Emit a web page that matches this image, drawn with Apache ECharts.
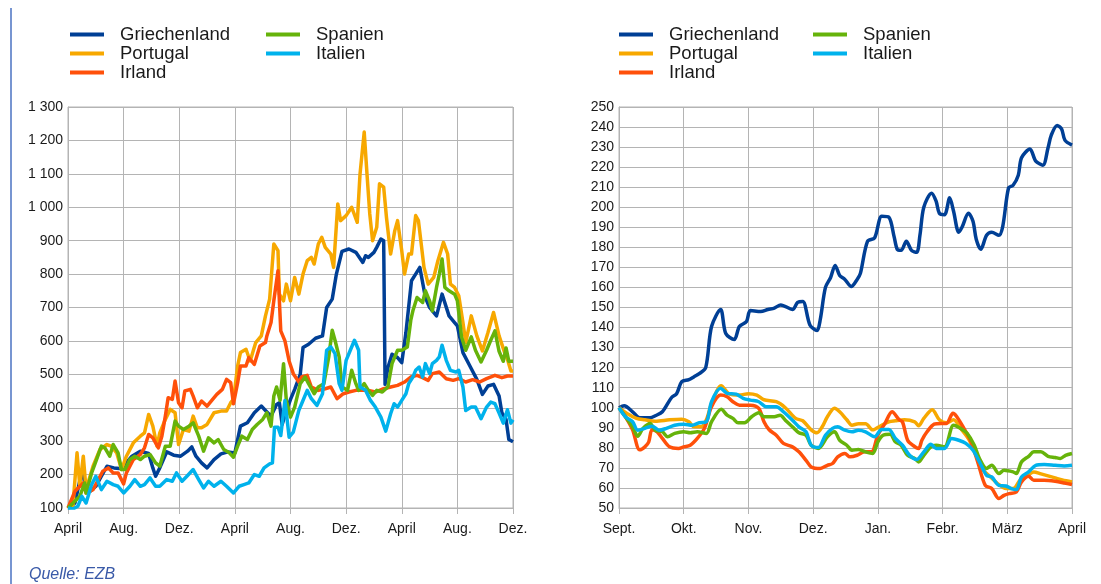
<!DOCTYPE html>
<html>
<head>
<meta charset="utf-8">
<script src="https://cdn.jsdelivr.net/npm/echarts@6/dist/echarts.min.js"></script>
<style>
  html, body { margin: 0; padding: 0; background: #fff; }
  #chart { width: 1101px; height: 584px; }
</style>
</head>
<body>
<div id="chart"></div>
<script>
// x values are months since the first tick
var leftTicks = ['April', 'Aug.', 'Dez.', 'April', 'Aug.', 'Dez.', 'April', 'Aug.', 'Dez.'];
var rightTicks = ['Sept.', 'Okt.', 'Nov.', 'Dez.', 'Jan.', 'Febr.', 'März', 'April'];

var names = ['Griechenland', 'Portugal', 'Irland', 'Spanien', 'Italien'];
var colors = ['#003f95', '#f7a800', '#ff500a', '#66b30a', '#00b2ec'];

// left panel, April 2010 = 0
var grLeft = [[0,100],[0.5,115],[1.0,210],[1.3,160],[1.6,150],[2.0,165],[2.4,195],[2.8,225],[3.3,220],[3.7,218],[4.0,225],[4.6,255],[5.2,270],[5.8,263],[6.1,220],[6.3,195],[6.6,220],[7.1,268],[7.6,258],[8.1,255],[8.6,270],[8.9,283],[9.2,255],[9.6,235],[10.0,220],[10.5,245],[11.0,262],[11.5,268],[12.0,265],[12.4,345],[12.9,355],[13.4,385],[13.9,405],[14.2,392],[14.6,375],[15.0,410],[15.2,415],[15.4,350],[15.7,390],[16.0,425],[16.3,455],[16.7,500],[16.9,580],[17.3,590],[17.8,608],[18.3,615],[18.6,700],[19.0,725],[19.3,800],[19.7,868],[20.2,875],[20.7,865],[21.2,835],[21.4,855],[21.6,850],[22.0,865],[22.2,880],[22.5,905],[22.7,900],[22.8,470],[23.0,520],[23.3,560],[23.7,550],[24.0,535],[24.3,625],[24.7,780],[25.0,800],[25.3,820],[25.7,730],[26.0,700],[26.5,675],[26.9,740],[27.4,675],[27.8,655],[28.0,645],[28.4,565],[28.9,525],[29.4,485],[29.8,440],[30.2,465],[30.6,470],[31.0,435],[31.2,385],[31.5,365],[31.7,305],[32.0,298]];
var ptLeft = [[0,100],[0.35,105],[0.65,265],[0.85,165],[1.1,255],[1.3,155],[1.8,225],[2.3,275],[2.8,290],[3.1,285],[3.5,265],[3.85,215],[4.2,255],[4.7,295],[5.2,315],[5.5,325],[5.8,380],[6.1,345],[6.4,285],[6.6,325],[7.0,365],[7.35,395],[7.7,385],[7.95,290],[8.3,335],[8.7,330],[9.0,375],[9.3,340],[9.6,340],[10.0,350],[10.5,385],[11.0,390],[11.4,390],[11.7,415],[11.9,425],[12.2,525],[12.4,565],[12.8,575],[13.1,540],[13.5,595],[13.9,615],[14.2,675],[14.5,725],[14.8,890],[15.1,870],[15.2,740],[15.5,720],[15.7,770],[16.0,720],[16.3,790],[16.6,740],[16.9,800],[17.2,840],[17.5,850],[17.7,830],[18.0,890],[18.25,910],[18.5,880],[18.9,860],[19.1,820],[19.4,1010],[19.6,960],[20.0,975],[20.4,1000],[20.8,955],[21.0,1100],[21.3,1225],[21.5,1100],[21.7,980],[21.9,900],[22.2,940],[22.4,1070],[22.7,1060],[22.9,970],[23.2,860],[23.5,930],[23.7,960],[24.0,870],[24.2,800],[24.5,860],[24.7,860],[25.0,975],[25.2,960],[25.6,820],[25.9,770],[26.3,790],[26.6,840],[27.0,895],[27.3,860],[27.5,770],[27.8,760],[28.1,735],[28.4,655],[28.6,595],[29.0,675],[29.4,615],[29.8,570],[30.2,625],[30.6,685],[31.0,615],[31.4,565],[31.6,545],[31.85,510],[32.0,510]];
var ieLeft = [[0,100],[0.5,150],[1.1,175],[1.3,145],[1.8,155],[2.5,210],[2.9,220],[3.25,205],[3.6,205],[4.0,172],[4.2,205],[4.7,245],[5.2,260],[5.5,280],[5.8,320],[6.1,310],[6.5,280],[6.75,315],[7.0,375],[7.2,430],[7.5,425],[7.7,480],[7.95,415],[8.2,400],[8.4,450],[8.8,455],[9.0,435],[9.3,400],[9.6,420],[10.0,405],[10.4,425],[10.7,440],[11.1,455],[11.4,485],[11.7,475],[11.9,412],[12.2,475],[12.4,525],[12.8,525],[13.0,550],[13.4,530],[13.8,585],[14.2,595],[14.3,615],[14.6,655],[14.8,720],[15.1,810],[15.3,630],[15.6,600],[15.9,540],[16.2,502],[16.6,477],[16.8,492],[17.2,497],[17.5,462],[18.0,452],[18.5,457],[18.9,462],[19.35,427],[19.8,442],[20.2,447],[20.7,452],[21.2,452],[21.6,452],[22.1,447],[22.7,457],[23.2,462],[23.7,467],[24.2,477],[24.65,492],[25.1,497],[25.5,490],[25.9,482],[26.2,502],[26.7,507],[27.2,487],[27.7,482],[28.1,487],[28.6,477],[29.1,484],[29.6,477],[30.1,487],[30.7,497],[31.2,490],[31.6,495],[32.0,495]];
var esLeft = [[0,100],[0.6,125],[0.85,135],[1.2,175],[1.3,145],[1.7,205],[2.05,245],[2.4,285],[2.65,280],[3.0,255],[3.25,290],[3.6,265],[3.85,215],[4.1,215],[4.45,245],[4.8,255],[5.2,245],[5.5,255],[5.9,260],[6.3,235],[6.6,225],[7.0,285],[7.35,285],[7.7,360],[7.95,345],[8.3,335],[8.7,345],[9.0,355],[9.4,315],[9.75,270],[10.1,310],[10.5,295],[10.8,305],[11.2,275],[11.6,265],[11.9,252],[12.2,285],[12.5,315],[12.9,305],[13.25,335],[13.6,350],[14.0,365],[14.3,385],[14.6,345],[14.8,435],[15.0,462],[15.25,422],[15.5,532],[15.7,422],[16.0,372],[16.3,402],[16.7,472],[17.05,492],[17.3,472],[17.7,442],[18.0,462],[18.4,472],[18.75,552],[19.0,632],[19.2,602],[19.5,552],[19.7,462],[20.1,452],[20.4,512],[20.7,472],[20.9,452],[21.3,472],[21.6,452],[21.9,437],[22.2,452],[22.6,447],[23.0,462],[23.3,532],[23.7,572],[24.0,572],[24.4,582],[24.65,662],[24.8,690],[25.1,730],[25.5,715],[25.7,750],[26.0,720],[26.2,690],[26.5,760],[26.7,800],[26.9,845],[27.1,760],[27.4,750],[27.8,740],[28.0,720],[28.3,612],[28.6,572],[29.0,612],[29.3,572],[29.7,537],[30.1,572],[30.4,602],[30.7,630],[31.0,569],[31.3,539],[31.5,579],[31.7,539],[32.0,539]];
var itLeft = [[0,100],[0.35,97],[0.7,105],[1.0,135],[1.3,115],[1.7,170],[2.0,195],[2.4,155],[2.8,180],[3.25,170],[3.6,165],[4.0,145],[4.45,165],[4.8,185],[5.2,165],[5.5,170],[5.9,190],[6.3,165],[6.6,165],[7.1,185],[7.5,180],[7.8,205],[8.2,180],[8.55,195],[9.0,215],[9.4,185],[9.75,160],[10.1,180],[10.5,165],[11.0,180],[11.4,165],[11.9,145],[12.3,165],[12.65,170],[13.0,175],[13.4,200],[13.75,195],[14.1,220],[14.5,232],[14.7,235],[14.85,342],[15.1,342],[15.3,317],[15.6,422],[15.9,312],[16.2,327],[16.6,392],[16.8,412],[17.2,452],[17.5,427],[17.9,407],[18.3,442],[18.6,572],[18.9,582],[19.2,562],[19.5,472],[19.7,452],[20.0,542],[20.3,572],[20.6,602],[20.9,572],[21.0,462],[21.4,452],[21.75,422],[22.1,402],[22.5,372],[22.85,330],[23.2,382],[23.45,412],[23.7,402],[24.0,422],[24.3,442],[24.5,472],[24.8,492],[25.0,512],[25.25,522],[25.5,492],[25.7,532],[26.0,502],[26.2,532],[26.5,542],[26.7,552],[26.9,587],[27.2,542],[27.5,512],[27.9,507],[28.1,512],[28.4,462],[28.6,392],[29.0,402],[29.3,402],[29.7,367],[30.1,402],[30.4,417],[30.7,412],[31.0,384],[31.3,354],[31.6,394],[31.85,354],[32.0,364]];

// right panel, 1 September = 0
var grRight = [[0,100],[0.08,101],[0.21,98],[0.32,95],[0.48,95],[0.56,96],[0.67,98],[0.81,105],[0.89,107],[0.97,113],[1.08,114],[1.16,115.5],[1.24,117],[1.34,120],[1.43,140.5],[1.57,149],[1.65,137],[1.78,134],[1.86,140.5],[1.97,143],[2.03,148.5],[2.19,148],[2.3,149],[2.4,149.7],[2.5,151.3],[2.68,149],[2.76,152.5],[2.84,153],[2.95,141.3],[3.06,138.5],[3.11,144],[3.19,160],[3.27,165],[3.34,171],[3.41,166],[3.49,164],[3.59,160.5],[3.68,164],[3.73,167],[3.84,183],[3.95,184.7],[4.06,195.5],[4.17,195],[4.25,185.5],[4.3,179],[4.36,178.5],[4.44,183],[4.52,178.5],[4.6,177.5],[4.65,186],[4.71,200],[4.83,207],[4.9,203],[4.95,197],[5.03,196.3],[5.11,204.7],[5.17,198],[5.25,187.5],[5.3,190],[5.4,197],[5.47,193],[5.52,184],[5.59,179],[5.68,186],[5.76,187.5],[5.87,186],[5.93,190.5],[6.02,209.7],[6.09,211],[6.17,216],[6.22,224.7],[6.35,229],[6.44,223],[6.55,221],[6.63,229.7],[6.68,236],[6.77,240.8],[6.84,239],[6.89,233.5],[7,231]];
var ptRight = [[0,100],[0.13,97],[0.27,94.7],[0.4,94],[0.56,93.3],[0.78,94],[0.97,94.3],[1.08,93],[1.16,90.5],[1.27,90.5],[1.35,94],[1.43,102],[1.58,111],[1.7,107],[1.86,106.3],[2.0,107],[2.13,106.3],[2.24,104],[2.43,103],[2.57,100],[2.73,94.7],[2.84,93.5],[2.97,89],[3.06,87.5],[3.14,90.5],[3.22,95.5],[3.33,99.7],[3.41,98],[3.52,94],[3.6,91.3],[3.7,92],[3.81,92],[3.92,89],[4.06,91.3],[4.17,93],[4.27,93.5],[4.41,94],[4.57,93],[4.63,91],[4.71,94.7],[4.84,99],[4.95,94],[5.06,92.5],[5.17,94],[5.28,89.7],[5.41,84],[5.52,76.3],[5.63,68.8],[5.74,65.5],[5.85,62.2],[5.98,59.7],[6.09,59.7],[6.2,64],[6.3,66],[6.41,68],[6.52,67],[6.63,66],[6.74,65],[6.85,64],[7,63]];
var ieRight = [[0,100],[0.1,95.5],[0.21,89],[0.32,79],[0.4,80.5],[0.46,83],[0.51,89],[0.59,88],[0.67,84.7],[0.78,80.5],[0.92,79.7],[1.0,80.5],[1.1,81.3],[1.21,84.7],[1.32,89.7],[1.43,100.5],[1.57,106.3],[1.67,105.5],[1.76,103],[1.86,101.3],[2.03,101.3],[2.16,99.7],[2.24,93],[2.32,89],[2.43,86.3],[2.54,82.2],[2.68,80.5],[2.78,78],[2.89,73.8],[2.97,70.5],[3.11,69.7],[3.22,71.3],[3.3,72.2],[3.38,75.5],[3.49,77.2],[3.57,75.5],[3.68,76.3],[3.79,78],[3.9,78],[4.0,86.3],[4.11,92.2],[4.22,98],[4.33,94],[4.38,93],[4.46,83.8],[4.54,81.3],[4.63,79.7],[4.68,83.8],[4.76,88],[4.87,91.8],[4.98,92.2],[5.06,92.2],[5.16,97.2],[5.22,95.5],[5.33,89.7],[5.44,83],[5.55,72.2],[5.66,61.3],[5.76,59.7],[5.87,54.7],[5.95,56.3],[6.03,57.2],[6.14,58],[6.22,63],[6.33,65.8],[6.41,63.8],[6.57,63.8],[6.74,63.3],[6.88,62.5],[7,61.7]];
var esRight = [[0,100],[0.1,95.5],[0.21,90.5],[0.29,85.8],[0.37,89.7],[0.48,92.2],[0.56,88.8],[0.67,88],[0.75,85.5],[0.86,87.2],[1.0,88],[1.1,87.5],[1.21,88],[1.35,87.2],[1.43,93],[1.58,99.2],[1.67,96.3],[1.76,94.7],[1.84,92.5],[1.94,92.5],[2.05,95.5],[2.16,97.5],[2.24,95.5],[2.4,95.5],[2.49,96.3],[2.57,93.8],[2.68,90.5],[2.78,87.5],[2.89,86.3],[2.97,81.3],[3.08,79.7],[3.22,85.5],[3.33,88],[3.41,83.8],[3.52,81.3],[3.6,78.8],[3.7,79.2],[3.81,78],[3.92,77.2],[4.0,83],[4.08,86.3],[4.19,86.8],[4.27,83],[4.36,81.3],[4.46,76.3],[4.57,74.7],[4.63,73],[4.71,76.3],[4.82,80.5],[4.9,81.3],[5.03,80.5],[5.17,91.3],[5.28,89.7],[5.38,87.2],[5.49,81.3],[5.57,74.7],[5.68,69.7],[5.76,71.3],[5.87,67.2],[5.95,68.8],[6.09,68],[6.14,67.2],[6.22,73],[6.33,75.8],[6.41,78],[6.52,78],[6.63,75.8],[6.74,75.2],[6.82,74.7],[6.9,76.3],[7,77.2]];
var itRight = [[0,100],[0.1,95.5],[0.21,93],[0.29,88.8],[0.4,89.7],[0.51,90.8],[0.62,88.8],[0.73,89.7],[0.86,91.3],[1.0,91.8],[1.13,91.3],[1.24,92.5],[1.35,93],[1.43,103],[1.57,109.7],[1.67,107.2],[1.81,106.8],[1.92,104.7],[2.03,103.8],[2.16,103],[2.27,100.5],[2.43,100.5],[2.54,98],[2.68,93.8],[2.78,90.5],[2.89,88],[2.97,81.3],[3.08,80.2],[3.19,86.3],[3.3,89.7],[3.38,90.5],[3.49,88.8],[3.6,88],[3.7,88.8],[3.81,88],[3.95,85.5],[4.06,89.2],[4.17,89.2],[4.27,84.7],[4.38,81.3],[4.49,76.3],[4.6,74.2],[4.71,78],[4.82,81.8],[4.9,79.7],[5.03,79.7],[5.14,84.7],[5.25,83.8],[5.36,82.2],[5.47,78.8],[5.57,73],[5.68,66.3],[5.76,65.5],[5.87,61.3],[5.98,61],[6.06,59.7],[6.14,59.2],[6.22,65.5],[6.33,68],[6.44,71.3],[6.57,71.7],[6.74,71.3],[6.88,71],[7,71.3]];

var leftData = [grLeft, ptLeft, ieLeft, esLeft, itLeft];
var rightData = [grRight, ptRight, ieRight, esRight, itRight];

var gridColor = '#b4b4b4';
var font = 'Liberation Sans, Arial, sans-serif';
var labelStyle = { color: '#1a1a1a', fontSize: 14, fontFamily: font };

function xAxisFor(gridIndex, max, ticks) {
  var step = max === 32 ? 4 : 1;
  return {
    type: 'value', gridIndex: gridIndex, min: 0, max: max, interval: step,
    axisLine: { show: true, lineStyle: { color: gridColor } },
    axisTick: { show: true, length: 6, lineStyle: { color: gridColor } },
    splitLine: { show: true, lineStyle: { color: gridColor, width: 1 } },
    axisLabel: Object.assign({
      margin: 14,
      showMaxLabel: true,
      formatter: function (v) { return ticks[Math.round(v / step)]; }
    }, labelStyle)
  };
}

function yAxisFor(gridIndex, min, max, interval) {
  return {
    type: 'value', gridIndex: gridIndex, min: min, max: max, interval: interval,
    axisLine: { show: true, lineStyle: { color: gridColor } },
    axisTick: { show: false },
    splitLine: { show: true, lineStyle: { color: gridColor, width: 1 } },
    axisLabel: Object.assign({
      margin: 5,
      formatter: function (v) { return String(v).replace(/\B(?=(\d{3})+(?!\d))/g, ' '); }
    }, labelStyle)
  };
}

var series = [];
names.forEach(function (n, i) {
  series.push({
    name: n, type: 'line', xAxisIndex: 0, yAxisIndex: 0,
    data: leftData[i], showSymbol: false,
    lineStyle: { color: colors[i], width: 3.5, join: 'round' },
    itemStyle: { color: colors[i] }
  });
  series.push({
    name: n, type: 'line', xAxisIndex: 1, yAxisIndex: 1,
    data: rightData[i], showSymbol: false, smooth: 0.3,
    lineStyle: { color: colors[i], width: 3.5, join: 'round' },
    itemStyle: { color: colors[i] }
  });
});

// two stacked columns per panel, like the original legend
function legendAt(left, items) {
  return {
    orient: 'vertical', left: left, top: 25, padding: 0, itemGap: 0,
    icon: 'rect', itemWidth: 34, itemHeight: 4,
    selectedMode: false,
    data: items,
    textStyle: { color: '#1a1a1a', fontSize: 18.5, lineHeight: 19, fontFamily: font, padding: [0, 0, 0, 11] }
  };
}

var chart = echarts.init(document.getElementById('chart'));
chart.setOption({
  backgroundColor: '#fff',
  animation: false,
  legend: [
    legendAt(70, names.slice(0, 3)), legendAt(266, names.slice(3)),
    legendAt(619, names.slice(0, 3)), legendAt(813, names.slice(3))
  ],
  grid: [
    { left: 68, top: 107, width: 445, height: 401, show: true, borderColor: gridColor, borderWidth: 1 },
    { left: 619, top: 107, width: 453, height: 401, show: true, borderColor: gridColor, borderWidth: 1 }
  ],
  xAxis: [xAxisFor(0, 32, leftTicks), xAxisFor(1, 7, rightTicks)],
  yAxis: [yAxisFor(0, 100, 1300, 100), yAxisFor(1, 50, 250, 10)],
  series: series,
  graphic: [
    { type: 'line', shape: { x1: 11, y1: 8, x2: 11, y2: 584 }, style: { stroke: '#4a72c2', lineWidth: 1.5 } },
    { type: 'text', left: 29, top: 567, style: { text: 'Quelle: EZB', fill: '#3a5aa8', fontSize: 16, fontStyle: 'italic', fontFamily: font } }
  ]
});
</script>
</body>
</html>
